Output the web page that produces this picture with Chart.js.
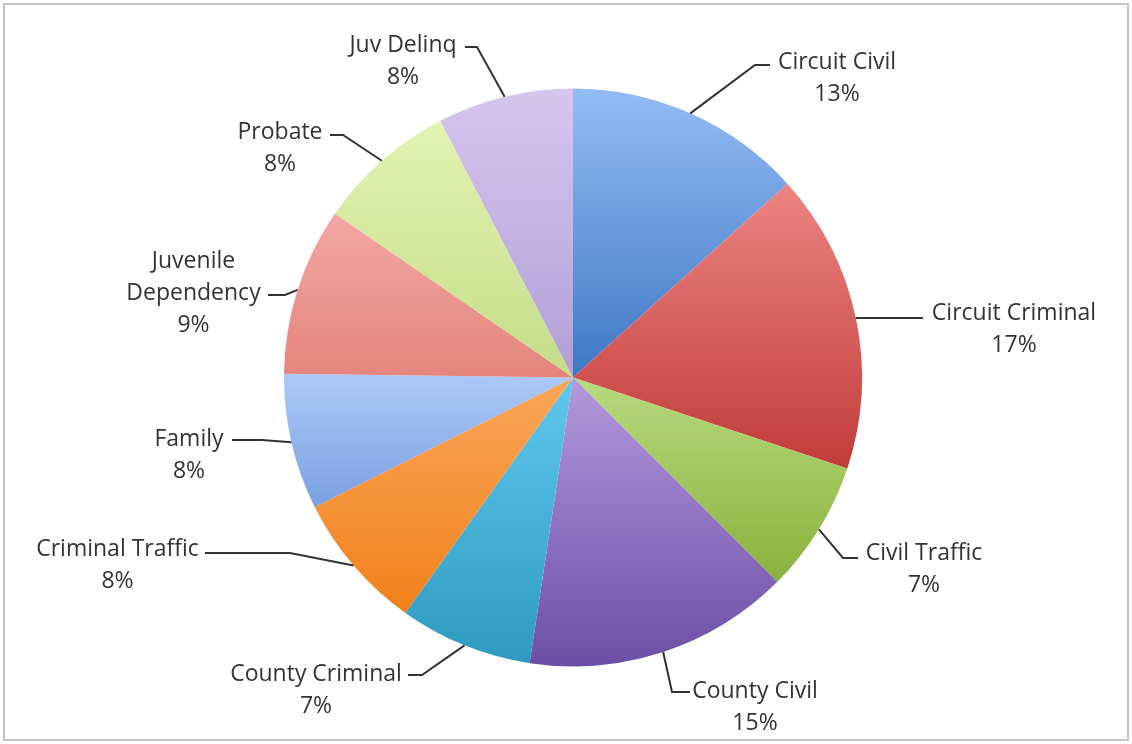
<!DOCTYPE html>
<html><head><meta charset="utf-8">
<script src="https://cdn.jsdelivr.net/npm/chart.js@4.4.1/dist/chart.umd.min.js"></script>
<style>html,body{margin:0;padding:0;background:#fff;overflow:hidden;}#wrap{position:relative;width:1132px;height:744px;}</style>
</head><body><div id="wrap"><canvas id="c" width="1132" height="744"></canvas></div>
<script>
// ---- data ----
const categories = ['Circuit Civil', 'Circuit Criminal', 'Civil Traffic', 'County Civil', 'County Criminal',
  'Criminal Traffic', 'Family', ['Juvenile', 'Dependency'], 'Probate', 'Juv Delinq'];
const shares = [13.3, 16.8, 7.4, 14.9, 7.45, 7.75, 7.6, 9.4, 7.8, 7.6];

// ---- styles ----
const lightColors = ['#93bcf3', '#ec8482', '#b6d97e', '#b398dc', '#5ec8ec', '#faa65a', '#acc9f8', '#f3a6a4', '#e3f3b3', '#d6c6ee'];
const darkColors  = ['#3f77c5', '#c13c39', '#88b23c', '#6d4ea6', '#2f9ac0', '#f1801b', '#7aa0e0', '#e4857c', '#c4dd88', '#b29ed5'];
// label layout: offsets (px at radius 289) relative to pie centre
const labelLayout = [
  {elbow: [182, -312.5], endX: 197, text: [264, -316.5]},
  {elbow: null, endX: 350, text: [441, -65.5]},
  {elbow: [270, 180.5], endX: 285, text: [351, 174.5]},
  {elbow: [99, 314.5], endX: 117, text: [182, 312.5]},
  {elbow: [-151, 297.5], endX: -165, text: [-257, 295.5]},
  {elbow: [-283, 175.5], endX: -368, text: [-455.5, 170]},
  {elbow: [-311, 62.5], endX: -341, text: [-384, 60]},
  {elbow: [-288, -82.5], endX: -305, text: [-379.5, -118]},
  {elbow: [-230, -242.5], endX: -243, text: [-293, -247]},
  {elbow: [-96, -330.5], endX: -108, text: [-170, -334]}
];
const FONT_SIZE = 23, LINE_H = 32, FONT = '"Open Sans", Lato, sans-serif';

function sliceGradient(ctx) {
  const chart = ctx.chart, area = chart.chartArea, i = ctx.dataIndex;
  if (!area || i === undefined) return lightColors[i] || '#ccc';
  const cx = (area.left + area.right) / 2, cy = (area.top + area.bottom) / 2;
  const r = Math.min(area.right - area.left, area.bottom - area.top) / 2;
  const total = shares.reduce((a, b) => a + b, 0);
  let start = 0; for (let k = 0; k < i; k++) start += shares[k];
  const a0 = start / total * 2 * Math.PI, a1 = (start + shares[i]) / total * 2 * Math.PI;
  const ys = [cy, cy - r * Math.cos(a0), cy - r * Math.cos(a1)];
  if (a0 <= Math.PI && a1 >= Math.PI) ys.push(cy + r);
  const top = Math.min(...ys), bottom = Math.max(...ys);
  const g = chart.ctx.createLinearGradient(0, top, 0, bottom + 0.01);
  g.addColorStop(0, lightColors[i]);
  g.addColorStop(1, darkColors[i]);
  return g;
}

const framePlugin = {
  id: 'frame',
  beforeDraw(chart) {
    const c = chart.ctx;
    c.save();
    c.fillStyle = '#fff';
    c.fillRect(0, 0, chart.width, chart.height);
    c.strokeStyle = '#c4c4c4';
    c.lineWidth = 2;
    c.strokeRect(4, 4, chart.width - 8, chart.height - 8);
    c.restore();
  }
};

const labelPlugin = {
  id: 'outLabels',
  afterDatasetsDraw(chart) {
    const c = chart.ctx;
    const meta = chart.getDatasetMeta(0);
    const total = shares.reduce((a, b) => a + b, 0);
    c.save();
    meta.data.forEach((arc, i) => {
      const p = arc.getProps(['x', 'y', 'startAngle', 'endAngle', 'outerRadius'], true);
      const mid = (p.startAngle + p.endAngle) / 2;
      const s = p.outerRadius / 289;
      const sx = p.x + Math.cos(mid) * p.outerRadius, sy = p.y + Math.sin(mid) * p.outerRadius;
      const L = labelLayout[i];
      c.strokeStyle = '#333333';
      c.lineWidth = 2;
      c.beginPath();
      c.moveTo(sx, sy);
      let ey = sy;
      if (L.elbow) { ey = p.y + L.elbow[1] * s; c.lineTo(p.x + L.elbow[0] * s, ey); }
      c.lineTo(p.x + L.endX * s, ey);
      c.stroke();
      const name = Array.isArray(categories[i]) ? categories[i] : [categories[i]];
      const lines = name.concat([Math.round(shares[i] / total * 100) + '%']);
      c.fillStyle = '#333333';
      c.font = FONT_SIZE + 'px ' + FONT;
      c.textAlign = 'center';
      c.textBaseline = 'alphabetic';
      const tx = p.x + L.text[0] * s, ty = p.y + L.text[1] * s;
      lines.forEach((ln, k) => c.fillText(ln, tx, ty + k * LINE_H + FONT_SIZE * 0.357));
    });
    c.restore();
  }
};

new Chart(document.getElementById('c'), {
  type: 'pie',
  data: {
    labels: categories,
    datasets: [{
      data: shares,
      backgroundColor: sliceGradient,
      borderWidth: 0,
      hoverOffset: 0
    }]
  },
  options: {
    responsive: false,
    animation: false,
    devicePixelRatio: 1,
    layout: {padding: {left: 284, right: 270, top: 88, bottom: 77}},
    plugins: {legend: {display: false}, tooltip: {enabled: false}}
  },
  plugins: [framePlugin, labelPlugin]
});
</script>
</body></html>
